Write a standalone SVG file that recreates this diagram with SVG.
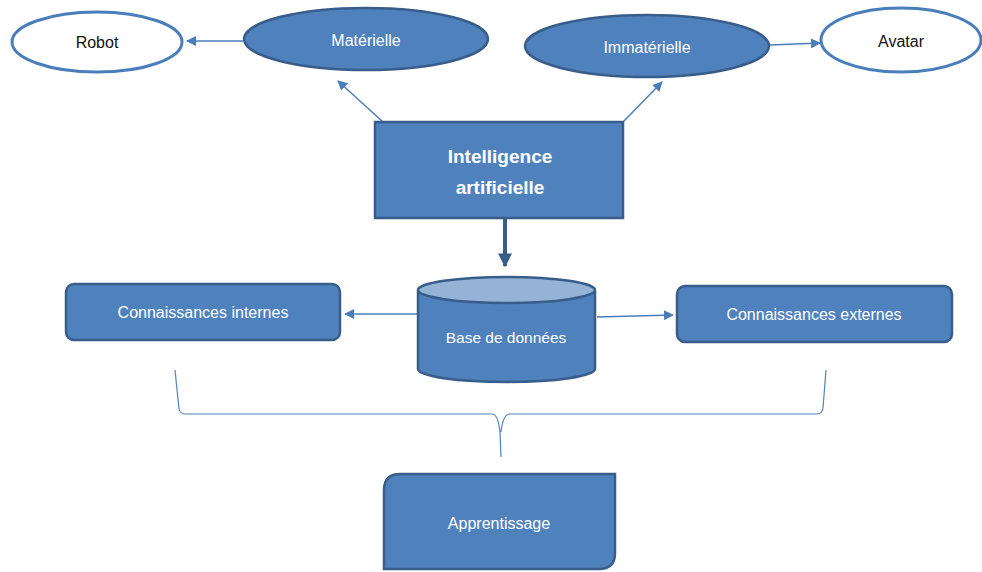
<svg xmlns="http://www.w3.org/2000/svg" width="982" height="572" viewBox="0 0 982 572">
<style>
.node{fill:#4f81bd;stroke:#385d8a;stroke-width:2.5}
.out{fill:#fff;stroke:#4a7ebb;stroke-width:3}
.t{font-family:"Liberation Sans",Arial,sans-serif;font-size:16px;fill:#fff;text-anchor:middle}
.dk{fill:#111}
.b{font-weight:bold;font-size:19px}
.c{fill:none;stroke:#4a7ebb;stroke-width:1.5}
</style>
<defs>
<marker id="ah" viewBox="0 0 10 10" refX="9" refY="5" markerWidth="10" markerHeight="10" orient="auto" markerUnits="userSpaceOnUse">
<path d="M0,0L10,5L0,10z" fill="#4a7ebb"/>
</marker>
<marker id="ahd" viewBox="0 0 10 10" refX="9" refY="5" markerWidth="3.5" markerHeight="3.5" orient="auto">
<path d="M0,0L10,5L0,10z" fill="#385d8a"/>
</marker>
</defs>
<rect width="982" height="572" fill="#fff"/>
<g id="connectors">
<path class="c" d="M243,41 L187,41" marker-end="url(#ah)"/>
<path class="c" d="M383,122 L338,81" marker-end="url(#ah)"/>
<path class="c" d="M624,121 L662,82" marker-end="url(#ah)"/>
<path class="c" d="M770,45 L820,43" marker-end="url(#ah)"/>
<path d="M505,218 L505,266" fill="none" stroke="#385d8a" stroke-width="4" marker-end="url(#ahd)"/>
<path class="c" d="M418,314 L345,314" marker-end="url(#ah)"/>
<path class="c" d="M597,317 L673,315" marker-end="url(#ah)"/>
<path d="M175,370 Q178,400 179,409 Q180,414 186,414 L492,414 Q498,414 500,432 L501,457 M501,432 Q503,414 510,414 L817,414 Q822,414 823,408 L826,370" fill="none" stroke="#4f81bd" stroke-width="1.2"/>
</g>
<g id="robot"><ellipse class="out" cx="97" cy="42" rx="85" ry="30"/><text class="t dk" x="97" y="48">Robot</text></g>
<g id="materielle"><ellipse class="node" cx="366" cy="39" rx="122" ry="31"/><text class="t" x="366" y="46">Matérielle</text></g>
<g id="immaterielle"><ellipse class="node" cx="647" cy="46" rx="122" ry="31"/><text class="t" x="647" y="53">Immatérielle</text></g>
<g id="avatar"><ellipse class="out" cx="901" cy="40" rx="80" ry="32"/><text class="t dk" x="901" y="47">Avatar</text></g>
<g id="ia"><rect class="node" x="375" y="122" width="248" height="96"/><text class="t b" x="500" y="163">Intelligence</text><text class="t b" x="500" y="194">artificielle</text></g>
<g id="bdd">
<path class="node" d="M418,290 L418,369 A88.5,13 0 0 0 595,369 L595,290"/>
<ellipse cx="506.5" cy="290" rx="88.5" ry="13" fill="#95b3d7" stroke="#385d8a" stroke-width="2.5"/>
<text class="t" x="506" y="343" style="font-size:15.5px">Base de données</text>
</g>
<g id="internes"><rect class="node" x="66" y="284" width="274" height="56" rx="8"/><text class="t" x="203" y="318">Connaissances internes</text></g>
<g id="externes"><rect class="node" x="677" y="286" width="275" height="56" rx="8"/><text class="t" x="814" y="320">Connaissances externes</text></g>
<g id="apprentissage"><path class="node" d="M400,474 L615,474 L615,553 Q615,569 599,569 L384,569 L384,490 Q384,474 400,474 Z"/><text class="t" x="499" y="529">Apprentissage</text></g>
</svg>
